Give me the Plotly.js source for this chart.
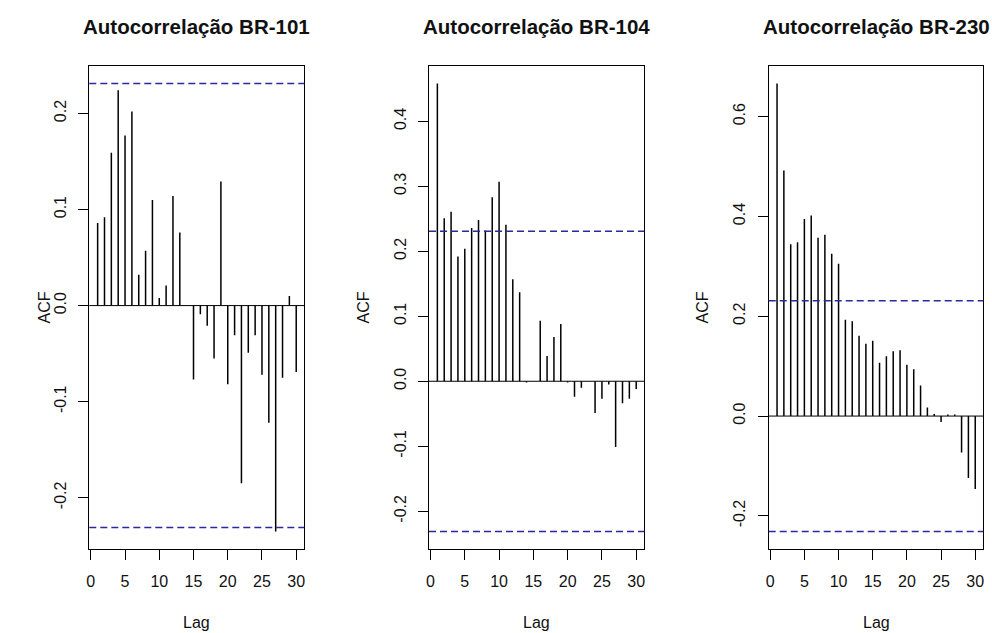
<!DOCTYPE html>
<html>
<head>
<meta charset="utf-8">
<script src="https://cdn.plot.ly/plotly-3.0.1.min.js"></script>
<style>
  html, body { margin: 0; padding: 0; background: #ffffff; }
  #chart { width: 992px; height: 633px; }
</style>
</head>
<body>
<div id="chart"></div>
<script>
// ---- data ----
const lags = [1, 2, 3, 4, 5, 6, 7, 8, 9, 10, 11, 12, 13, 14, 15, 16, 17, 18, 19, 20, 21, 22, 23, 24, 25, 26, 27, 28, 29, 30];
const titles = ["Autocorrelação BR-101", "Autocorrelação BR-104", "Autocorrelação BR-230"];
const acf101 = [0.086, 0.092, 0.159, 0.224, 0.177, 0.202, 0.032, 0.057, 0.110, 0.008, 0.021, 0.114, 0.076, 0.000, -0.077, -0.009, -0.021, -0.055, 0.129, -0.082, -0.031, -0.185, -0.049, -0.031, -0.072, -0.122, -0.235, -0.075, 0.010, -0.069];
const acf104 = [0.458, 0.251, 0.261, 0.192, 0.204, 0.236, 0.248, 0.232, 0.283, 0.307, 0.241, 0.157, 0.137, -0.002, 0.000, 0.093, 0.039, 0.068, 0.088, -0.002, -0.024, -0.010, 0.000, -0.049, -0.027, -0.005, -0.101, -0.034, -0.027, -0.012];
const acf230 = [0.666, 0.492, 0.344, 0.348, 0.395, 0.402, 0.357, 0.363, 0.325, 0.305, 0.193, 0.190, 0.161, 0.145, 0.151, 0.107, 0.120, 0.130, 0.132, 0.103, 0.094, 0.061, 0.017, 0.004, -0.012, 0.003, 0.003, -0.073, -0.124, -0.146];
const ciLimit = 0.231; // 1.96/sqrt(n)
const xTickVals = [0, 5, 10, 15, 20, 25, 30];
const xTickText = ["0", "5", "10", "15", "20", "25", "30"];
const yTickVals1 = [-0.2, -0.1, 0.0, 0.1, 0.2];
const yTickText1 = ["-0.2", "-0.1", "0.0", "0.1", "0.2"];
const yTickVals2 = [-0.2, -0.1, 0.0, 0.1, 0.2, 0.3, 0.4];
const yTickText2 = ["-0.2", "-0.1", "0.0", "0.1", "0.2", "0.3", "0.4"];
const yTickVals3 = [-0.2, 0.0, 0.2, 0.4, 0.6];
const yTickText3 = ["-0.2", "0.0", "0.2", "0.4", "0.6"];
const xLabel = "Lag";
const yLabel = "ACF";

// ---- layout helpers ----
const FONT = "Liberation Sans, Arial, Helvetica, sans-serif";
const W = 992, H = 633;
const boxTop = 65.7, boxBottom = 549.3;
const panels = [
  { vals: acf101, left: 89.3, right: 304.3, yt: yTickVals1, ytt: yTickText1, acfX: 44 },
  { vals: acf104, left: 429.0, right: 644.3, yt: yTickVals2, ytt: yTickText2, acfX: 363 },
  { vals: acf230, left: 768.7, right: 983.3, yt: yTickVals3, ytt: yTickText3, acfX: 702 }
];

const data = [];
const layout = {
  width: W, height: H,
  margin: { l: 0, r: 0, t: 0, b: 0, pad: 0 },
  paper_bgcolor: "#ffffff",
  plot_bgcolor: "#ffffff",
  showlegend: false,
  font: { family: FONT, size: 16, color: "#000000" },
  shapes: [],
  annotations: []
};

panels.forEach((p, i) => {
  const n = i === 0 ? "" : String(i + 1);
  const xa = "x" + n, ya = "y" + n;
  // stems
  const xs = [], ys = [];
  lags.forEach((k, j) => { xs.push(k, k, null); ys.push(0, p.vals[j], null); });
  data.push({
    type: "scatter", mode: "lines", x: xs, y: ys,
    xaxis: xa, yaxis: ya,
    line: { color: "#000000", width: 1.5 },
    hoverinfo: "skip"
  });
  // R-like y range
  const lo = Math.min(-ciLimit, ...p.vals), hi = Math.max(ciLimit, ...p.vals);
  const ext = (hi - lo) * 0.04;
  const axBase = {
    showgrid: false, zeroline: false,
    showline: true, linecolor: "#000000", linewidth: 1, mirror: true,
    ticks: "outside", ticklen: 10, tickwidth: 1, tickcolor: "#000000",
    tickfont: { family: FONT, size: 16, color: "#111111" },
    fixedrange: true
  };
  layout["xaxis" + n] = Object.assign({}, axBase, {
    domain: [p.left / W, p.right / W],
    range: [-0.22, 31.18],
    anchor: ya,
    tickmode: "array", tickvals: xTickVals, ticktext: xTickText,
    ticklabelstandoff: 7
  });
  layout["yaxis" + n] = Object.assign({}, axBase, {
    domain: [(H - boxBottom) / H, (H - boxTop) / H],
    range: [lo - ext, hi + ext],
    anchor: xa,
    tickmode: "array", tickvals: p.yt, ticktext: p.ytt,
    tickangle: -90,
    ticklabelstandoff: 6
  });
  // zero line
  layout.shapes.push({
    type: "line", xref: xa + " domain", yref: ya,
    x0: 0, x1: 1, y0: 0, y1: 0,
    line: { color: "#000000", width: 1 }
  });
  // confidence limits
  [ciLimit, -ciLimit].forEach(c => {
    layout.shapes.push({
      type: "line", xref: xa + " domain", yref: ya,
      x0: 0, x1: 1, y0: c, y1: c,
      line: { color: "#2a2a9c", width: 1.5, dash: "7px,4px" }
    });
  });
  const cx = ((p.left + p.right) / 2) / W;
  // title
  layout.annotations.push({
    xref: "paper", yref: "paper", x: cx, y: (H - 27) / H,
    xanchor: "center", yanchor: "middle", showarrow: false,
    text: "<b>" + titles[i] + "</b>",
    font: { family: FONT, size: 20.5, color: "#111111" }
  });
  // x label
  layout.annotations.push({
    xref: "paper", yref: "paper", x: cx, y: (H - 622) / H,
    xanchor: "center", yanchor: "middle", showarrow: false,
    text: xLabel,
    font: { family: FONT, size: 16, color: "#111111" }
  });
  // y label
  layout.annotations.push({
    xref: "paper", yref: "paper", x: p.acfX / W, y: (H - (boxTop + boxBottom) / 2) / H,
    xanchor: "center", yanchor: "middle", showarrow: false, textangle: -90,
    text: yLabel,
    font: { family: FONT, size: 16, color: "#111111" }
  });
});

Plotly.newPlot("chart", data, layout, { displayModeBar: false, staticPlot: true });
</script>
</body>
</html>
